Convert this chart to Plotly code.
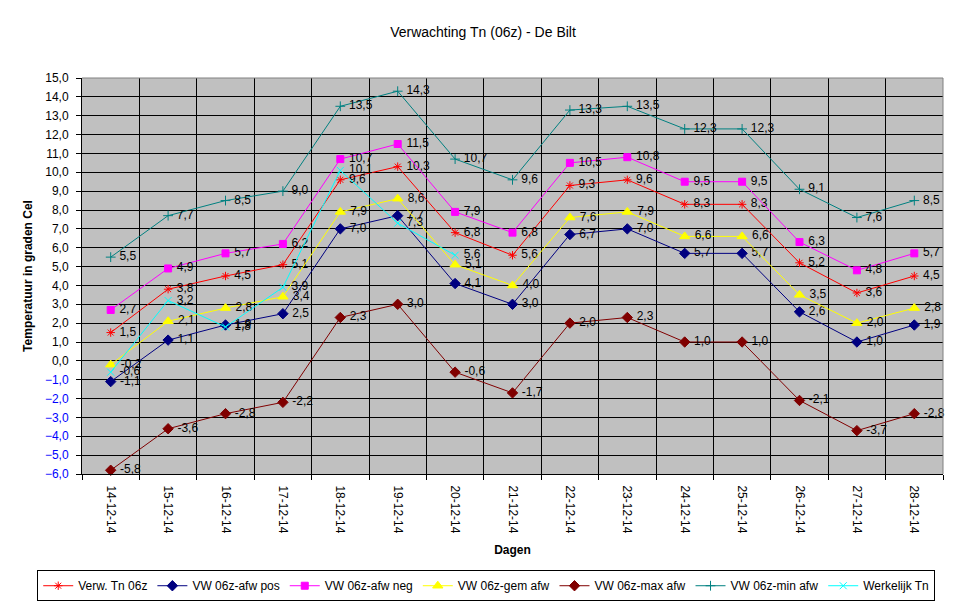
import plotly.graph_objects as go

dates = ["14-12-14", "15-12-14", "16-12-14", "17-12-14", "18-12-14", "19-12-14", "20-12-14",
         "21-12-14", "22-12-14", "23-12-14", "24-12-14", "25-12-14", "26-12-14", "27-12-14", "28-12-14"]

verw_tn = [1.5, 3.8, 4.5, 5.1, 9.6, 10.3, 6.8, 5.6, 9.3, 9.6, 8.3, 8.3, 5.2, 3.6, 4.5]
afw_pos = [-1.1, 1.1, 1.9, 2.5, 7.0, 7.7, 4.1, 3.0, 6.7, 7.0, 5.7, 5.7, 2.6, 1.0, 1.9]
afw_neg = [2.7, 4.9, 5.7, 6.2, 10.7, 11.5, 7.9, 6.8, 10.5, 10.8, 9.5, 9.5, 6.3, 4.8, 5.7]
gem_afw = [-0.2, 2.1, 2.8, 3.4, 7.9, 8.6, 5.1, 4.0, 7.6, 7.9, 6.6, 6.6, 3.5, 2.0, 2.8]
max_afw = [-5.8, -3.6, -2.8, -2.2, 2.3, 3.0, -0.6, -1.7, 2.0, 2.3, 1.0, 1.0, -2.1, -3.7, -2.8]
min_afw = [5.5, 7.7, 8.5, 9.0, 13.5, 14.3, 10.7, 9.6, 13.3, 13.5, 12.3, 12.3, 9.1, 7.6, 8.5]
werkelijk = [-0.6, 3.2, 1.8, 3.9, 10.1, 7.3, 5.6]

y_ticks_pos = list(range(0, 16))
y_ticks_neg = list(range(-6, 0))

FONT = "Arial, Liberation Sans, sans-serif"

series = [
    ("Verw. Tn 06z", verw_tn, "#FF0000", "asterisk-open", 7),
    ("VW 06z-afw pos", afw_pos, "#000080", "diamond", 8),
    ("VW 06z-afw neg", afw_neg, "#FF00FF", "square", 7),
    ("VW 06z-gem afw", gem_afw, "#FFFF00", "triangle-up", 9),
    ("VW 06z-max afw", max_afw, "#800000", "diamond", 8),
    ("VW 06z-min afw", min_afw, "#008080", "cross-thin-open", 7),
    ("Werkelijk Tn", werkelijk, "#00FFFF", "x-thin-open", 7),
]

fig = go.Figure()
for name, vals, col, sym, sz in series:
    fig.add_trace(go.Scatter(
        x=dates[:len(vals)], y=vals, name=name, mode="lines+markers+text",
        line=dict(color=col, width=1),
        marker=dict(symbol=sym, color=col, size=sz, line=dict(color=col, width=1)),
        texttemplate="\u00a0%{y:.1f}", textposition="middle right",
        textfont=dict(family=FONT, size=12, color="black"),
        cliponaxis=False,
    ))

common_y = dict(range=[-6, 15], tickformat=".1f", ticks="outside", ticklen=5,
                tickcolor="black", ticklabelstandoff=5, zeroline=False, automargin=False)

# The page body adds an 8px margin, so the figure is offset by 8px inside the window.
W, H = 961, 594
fig.update_layout(
    width=W, height=H,
    paper_bgcolor="white", plot_bgcolor="#C0C0C0",
    margin=dict(l=74, r=26, t=70, b=128, autoexpand=False),
    separators=",.",
    font=dict(family=FONT, size=12, color="black"),
    title=dict(text="Verwachting Tn (06z) - De Bilt", x=(483 - 8) / W, xanchor="center",
               y=1 - 24 / H, yanchor="middle", yref="container",
               font=dict(family=FONT, size=14, color="black")),
    xaxis=dict(type="category", categoryorder="array", categoryarray=dates,
               range=[-0.5, len(dates) - 0.5], automargin=False,
               tickson="boundaries", showgrid=True, gridcolor="black", gridwidth=1,
               showline=True, linecolor="black", linewidth=1,
               ticks="outside", ticklen=5, tickcolor="black", ticklabelstandoff=8,
               tickangle=90, tickfont=dict(family=FONT, size=12, color="black"),
               title=dict(text="<b>Dagen</b>", standoff=12,
                          font=dict(family=FONT, size=12, color="black")),
               zeroline=False),
    yaxis=dict(tickvals=y_ticks_pos + y_ticks_neg,
               ticktext=[("%.1f" % v).replace(".", ",") if v >= 0 else "" for v in y_ticks_pos + y_ticks_neg],
               showgrid=True, gridcolor="black", gridwidth=1,
               showline=True, linecolor="black", linewidth=1,
               tickfont=dict(family=FONT, size=12, color="black"),
               title=dict(text="<b>Temperatuur in graden Cel</b>", standoff=10,
                          font=dict(family=FONT, size=12, color="black")),
               **common_y),
    yaxis2=dict(overlaying="y", side="left", tickvals=y_ticks_neg,
                showgrid=False, showline=False,
                tickfont=dict(family=FONT, size=12, color="#0000FF"),
                **common_y),
    legend=dict(orientation="h", x=-0.052, xanchor="left", y=-0.243, yanchor="top",
                bgcolor="white", bordercolor="black", borderwidth=1,
                font=dict(family=FONT, size=12, color="black"),
                itemwidth=30, tracegroupgap=0),
    showlegend=True,
    shapes=[
        dict(type="line", xref="paper", yref="paper", x0=0, x1=1, y0=1, y1=1,
             line=dict(color="#808080", width=1)),
        dict(type="line", xref="paper", yref="paper", x0=1, x1=1, y0=0, y1=1,
             line=dict(color="#808080", width=1)),
    ],
)

# invisible helper trace so the blue negative tick labels on yaxis2 are rendered
fig.add_trace(go.Scatter(x=[dates[0]], y=[y_ticks_neg[0]], yaxis="y2", mode="markers",
                         marker=dict(opacity=0), showlegend=False, hoverinfo="skip"))

fig.write_html("out.html")
